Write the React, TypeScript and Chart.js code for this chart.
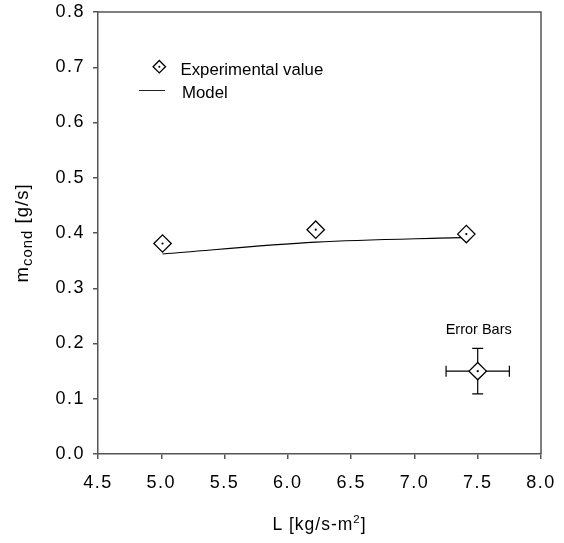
import React, { useEffect, useRef } from "react";
import { Chart, registerables } from "chart.js";

Chart.register(...registerables);

// ---- data ----
const expL = [5.01, 6.22, 7.41];
const expM = [0.381, 0.406, 0.398];
const modelL = [5.01, 6.22, 7.41];
const modelM = [0.362, 0.3835, 0.392];
const errPointL = [7.5];
const errPointM = [0.15];
const errXHalf = [0.25];
const errYHalf = [0.041];
const xTickValues = [4.5, 5.0, 5.5, 6.0, 6.5, 7.0, 7.5, 8.0];
const yTickValues = [0.0, 0.1, 0.2, 0.3, 0.4, 0.5, 0.6, 0.7, 0.8];
const legendLabels = ["Experimental value", "Model"];
const errorBarLabel = "Error Bars";
const xTitleParts = ["L [kg/s-m", "2", "]"];
const yTitleParts = ["m", "cond", " [g/s]"];

const FONT = "'Liberation Sans', Arial, Helvetica, sans-serif";
const AXIS_COLOR = "#555";

function diamond(ctx: CanvasRenderingContext2D, x: number, y: number, r: number) {
  ctx.beginPath();
  ctx.moveTo(x - r, y);
  ctx.lineTo(x, y - r);
  ctx.lineTo(x + r, y);
  ctx.lineTo(x, y + r);
  ctx.closePath();
}

const decorPlugin = {
  id: "decor",
  beforeDraw(chart: any) {
    (chart.ctx as any).letterSpacing = "1.5px";
  },
  beforeDatasetsDraw(chart: any) {
    const ctx: CanvasRenderingContext2D = chart.ctx;
    const { x, y } = chart.scales;
    ctx.save();
    ctx.strokeStyle = "#000";
    ctx.lineWidth = 1.2;
    for (let i = 0; i < errPointL.length; i++) {
      const cx = x.getPixelForValue(errPointL[i]);
      const cy = y.getPixelForValue(errPointM[i]);
      const x0 = x.getPixelForValue(errPointL[i] - errXHalf[i]);
      const x1 = x.getPixelForValue(errPointL[i] + errXHalf[i]);
      const y0 = y.getPixelForValue(errPointM[i] + errYHalf[i]);
      const y1 = y.getPixelForValue(errPointM[i] - errYHalf[i]);
      const c = 5.5;
      ctx.beginPath();
      ctx.moveTo(x0, cy); ctx.lineTo(x1, cy);
      ctx.moveTo(cx, y0); ctx.lineTo(cx, y1);
      ctx.moveTo(x0, cy - c); ctx.lineTo(x0, cy + c);
      ctx.moveTo(x1, cy - c); ctx.lineTo(x1, cy + c);
      ctx.moveTo(cx - c, y0); ctx.lineTo(cx + c, y0);
      ctx.moveTo(cx - c, y1); ctx.lineTo(cx + c, y1);
      ctx.stroke();
      (ctx as any).letterSpacing = "0px";
      ctx.fillStyle = "#000";
      ctx.font = `14.5px ${FONT}`;
      ctx.textAlign = "center";
      ctx.textBaseline = "alphabetic";
      ctx.fillText(errorBarLabel, cx + 1, y0 - 14);
    }
    ctx.restore();
  },
  afterDatasetsDraw(chart: any) {
    const ctx: CanvasRenderingContext2D = chart.ctx;
    const { x, y } = chart.scales;
    const area = chart.chartArea;
    ctx.save();
    (ctx as any).letterSpacing = "0px";
    // center dots
    ctx.fillStyle = "#000";
    const dots: [number, number][] = [];
    expL.forEach((v, i) => dots.push([v, expM[i]]));
    errPointL.forEach((v, i) => dots.push([v, errPointM[i]]));
    dots.forEach(([a, b]) => {
      ctx.beginPath();
      ctx.arc(x.getPixelForValue(a), y.getPixelForValue(b), 1.1, 0, Math.PI * 2);
      ctx.fill();
    });
    // top & right frame
    ctx.strokeStyle = AXIS_COLOR;
    ctx.lineWidth = 1.5;
    ctx.beginPath();
    ctx.moveTo(area.left, area.top);
    ctx.lineTo(area.right, area.top);
    ctx.lineTo(area.right, area.bottom);
    ctx.stroke();

    // legend
    const lx = area.left;
    const ly = area.top;
    ctx.strokeStyle = "#000";
    ctx.fillStyle = "#fff";
    ctx.lineWidth = 1.3;
    diamond(ctx, lx + 61.3, ly + 54.7, 6.2);
    ctx.fill();
    ctx.stroke();
    ctx.fillStyle = "#000";
    ctx.beginPath();
    ctx.arc(lx + 61.3, ly + 54.7, 1.0, 0, Math.PI * 2);
    ctx.fill();
    ctx.lineWidth = 1;
    ctx.strokeStyle = "#222";
    ctx.beginPath();
    ctx.moveTo(lx + 41, ly + 78.5);
    ctx.lineTo(lx + 67, ly + 78.5);
    ctx.stroke();
    ctx.font = `16.8px ${FONT}`;
    ctx.textAlign = "left";
    ctx.textBaseline = "alphabetic";
    ctx.fillText(legendLabels[0], lx + 82.5, ly + 63);
    ctx.fillText(legendLabels[1], lx + 84, ly + 86);

    // x title
    (ctx as any).letterSpacing = "1px";
    const mainF = `17.5px ${FONT}`;
    const supF = `11.5px ${FONT}`;
    ctx.font = mainF;
    const w0 = ctx.measureText(xTitleParts[0]).width;
    const w2 = ctx.measureText(xTitleParts[2]).width;
    ctx.font = supF;
    const w1 = ctx.measureText(xTitleParts[1]).width;
    const total = w0 + w1 + w2;
    const xc = (area.left + area.right) / 2;
    let px = xc - total / 2;
    const base = 530;
    ctx.font = mainF;
    ctx.fillText(xTitleParts[0], px, base);
    px += w0;
    ctx.font = supF;
    ctx.fillText(xTitleParts[1], px, base - 7);
    px += w1;
    ctx.font = mainF;
    ctx.fillText(xTitleParts[2], px, base);

    // y title (rotated)
    const yMain = `18.5px ${FONT}`;
    const ySub = `15px ${FONT}`;
    ctx.font = yMain;
    const a0 = ctx.measureText(yTitleParts[0]).width;
    const a2 = ctx.measureText(yTitleParts[2]).width;
    ctx.font = ySub;
    const a1 = ctx.measureText(yTitleParts[1]).width;
    const ytot = a0 + a1 + a2;
    const yc = (area.top + area.bottom) / 2;
    ctx.translate(28, yc);
    ctx.rotate(-Math.PI / 2);
    let q = -ytot / 2;
    ctx.font = yMain;
    ctx.fillText(yTitleParts[0], q, 0);
    q += a0;
    ctx.font = ySub;
    ctx.fillText(yTitleParts[1], q, 4);
    q += a1;
    ctx.font = yMain;
    ctx.fillText(yTitleParts[2], q, 0);
    ctx.restore();
  },
};

export default function App() {
  const ref = useRef<HTMLCanvasElement | null>(null);
  useEffect(() => {
    document.body.style.margin = "0";
    if (!ref.current) return;
    const tickFont = { size: 18, family: FONT };
    const chart = new Chart(ref.current, {
      type: "scatter",
      data: {
        datasets: [
          {
            type: "scatter",
            label: legendLabels[0],
            data: expL.map((v, i) => ({ x: v, y: expM[i] })),
            pointStyle: "rectRot",
            pointRadius: 8.7,
            borderColor: "#000",
            backgroundColor: "#fff",
            borderWidth: 1.3,
          },
          {
            type: "scatter",
            label: errorBarLabel,
            data: errPointL.map((v, i) => ({ x: v, y: errPointM[i] })),
            pointStyle: "rectRot",
            pointRadius: 8.7,
            borderColor: "#000",
            backgroundColor: "#fff",
            borderWidth: 1.3,
          },
          {
            type: "line",
            label: legendLabels[1],
            data: modelL.map((v, i) => ({ x: v, y: modelM[i] })),
            borderColor: "#000",
            borderWidth: 1.2,
            pointRadius: 0,
            fill: false,
            cubicInterpolationMode: "monotone",
          } as any,
        ],
      },
      options: {
        animation: false,
        responsive: false,
        layout: { padding: { top: 12, right: 23, left: 0, bottom: 0 } },
        plugins: { legend: { display: false }, tooltip: { enabled: false } },
        scales: {
          x: {
            type: "linear",
            min: 4.5,
            max: 8.0,
            afterBuildTicks: (axis: any) => {
              axis.ticks = xTickValues.map((v) => ({ value: v }));
            },
            afterFit: (s: any) => {
              s.height = 89;
              s.paddingLeft = 0;
              s.paddingRight = 0;
            },
            ticks: {
              callback: (v: any) => Number(v).toFixed(1),
              font: tickFont,
              color: "#000",
              padding: 13,
              maxRotation: 0,
              autoSkip: false,
            },
            grid: { drawOnChartArea: false, drawTicks: true, tickLength: 5, color: AXIS_COLOR, lineWidth: 1.5 },
            border: { display: true, color: AXIS_COLOR, width: 1.5 },
          },
          y: {
            type: "linear",
            min: 0,
            max: 0.8,
            afterBuildTicks: (axis: any) => {
              axis.ticks = yTickValues.map((v) => ({ value: v }));
            },
            afterFit: (s: any) => {
              s.width = 98;
              s.paddingTop = 0;
              s.paddingBottom = 0;
            },
            ticks: {
              callback: (v: any) => Number(v).toFixed(1),
              font: tickFont,
              color: "#000",
              padding: 8,
              autoSkip: false,
            },
            grid: { drawOnChartArea: false, drawTicks: true, tickLength: 5, color: AXIS_COLOR, lineWidth: 1.5 },
            border: { display: true, color: AXIS_COLOR, width: 1.5 },
          },
        },
      },
      plugins: [decorPlugin],
    });
    return () => chart.destroy();
  }, []);
  return <canvas ref={ref} width={564} height={543} style={{ display: "block" }} />;
}
